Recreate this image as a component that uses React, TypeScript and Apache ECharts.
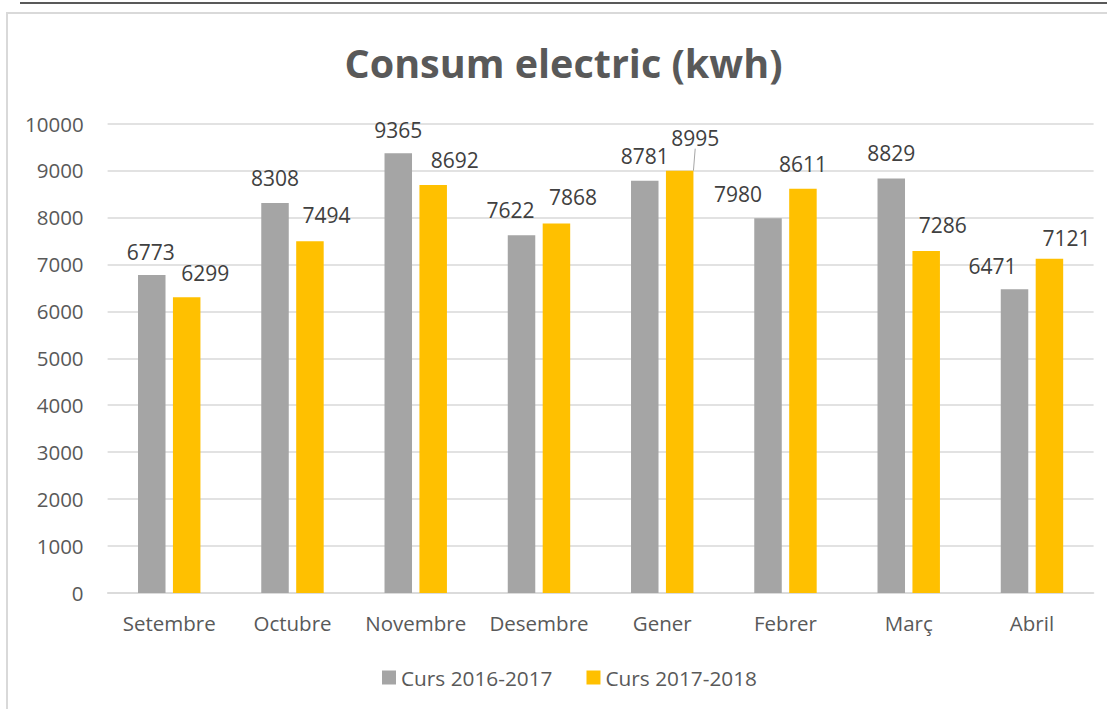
import React, { useEffect, useRef } from "react";
import * as echarts from "echarts";

const categories = ["Setembre", "Octubre", "Novembre", "Desembre", "Gener", "Febrer", "Març", "Abril"];
const seriesNames = ["Curs 2016-2017", "Curs 2017-2018"];
const curs2016 = [6773, 8308, 9365, 7622, 8781, 7980, 8829, 6471];
const curs2017 = [6299, 7494, 8692, 7868, 8995, 8611, 7286, 7121];
const yTicks = { min: 0, max: 10000, interval: 1000 };

// label nudges (px) mimicking Excel's auto-placement
const labelDx = [
  [-1, 0, 0, -11, 0, -30, 0, -22],
  [18.5, 16.5, 21.5, 16.5, 15.5, 0, 16.5, 17],
];
const labelDy = [
  [1, 0, 1, -1, 0, 0, -1, 1],
  [0, -2, 0, -2, -8, 0, -1, 4],
];

const FONT = "'Open Sans', 'Noto Sans', sans-serif";
const TEXT = "#595959";

export default function App() {
  const ref = useRef<HTMLDivElement>(null);
  useEffect(() => {
    if (!ref.current) return;
    const chart = echarts.init(ref.current, undefined, { renderer: "svg" });
    const labelStyle = {
      show: true,
      position: "top" as const,
      distance: 14,
      color: "#404040",
      fontSize: 21,
      fontFamily: FONT,
    };
    chart.setOption({
      animation: false,
      backgroundColor: "#ffffff",
      textStyle: { fontFamily: FONT },
      title: {
        text: "Consum electric (kwh)",
        left: 563.5,
        textAlign: "center",
        top: 43,
        padding: 0,
        textStyle: { fontSize: 39.5, fontWeight: "bold", color: TEXT, fontFamily: FONT },
      },
      graphic: [
        {
          type: "rect",
          shape: { x: 7, y: 13, width: 1300, height: 900 },
          style: { fill: "none", stroke: "#d9d9d9", lineWidth: 2 },
          silent: true,
          z: -10,
        },
        {
          type: "line",
          shape: { x1: 20, y1: 3, x2: 1110, y2: 3 },
          style: { stroke: "#595959", lineWidth: 2 },
          silent: true,
        },
      ],
      legend: {
        data: seriesNames,
        left: 382,
        top: 667,
        itemWidth: 14,
        itemHeight: 14,
        itemGap: 34,
        icon: "rect",
        padding: 0,
        textStyle: { fontSize: 20.8, color: TEXT, fontFamily: FONT },
      },
      grid: { left: 107.6, right: 13.4, top: 123.5, bottom: 116 },
      xAxis: {
        type: "category",
        data: categories,
        axisLine: { lineStyle: { color: "#d9d9d9", width: 1.5 } },
        axisTick: { show: false },
        axisLabel: { fontSize: 20.5, color: TEXT, margin: 19, fontFamily: FONT, interval: 0 },
      },
      yAxis: {
        type: "value",
        min: yTicks.min,
        max: yTicks.max,
        interval: yTicks.interval,
        axisLine: { show: false },
        axisTick: { show: false },
        splitLine: { lineStyle: { color: "#d9d9d9", width: 1.5 } },
        axisLabel: {
          fontSize: 20.5,
          color: TEXT,
          margin: 24,
          fontFamily: FONT,
          formatter: (v: number) => String(v),
        },
      },
      series: [
        {
          name: seriesNames[0],
          type: "bar",
          data: curs2016,
          barWidth: 27.5,
          barGap: "27%",
          itemStyle: { color: "#a5a5a5" },
          label: labelStyle,
          labelLayout: (p: any) => ({ dx: labelDx[0][p.dataIndex], dy: labelDy[0][p.dataIndex] }),
        },
        {
          name: seriesNames[1],
          type: "bar",
          data: curs2017.map((v, i) =>
            i === 4 ? { value: v, labelLine: { show: true, lineStyle: { color: "#a6a6a6", width: 1 } } } : v
          ),
          barWidth: 27.5,
          itemStyle: { color: "#ffc000" },
          label: labelStyle,
          labelLine: { show: false, lineStyle: { color: "#a6a6a6", width: 1 } },
          labelLayout: (p: any) => ({ dx: labelDx[1][p.dataIndex], dy: labelDy[1][p.dataIndex] }),
        },
      ],
    });
    return () => chart.dispose();
  }, []);
  return (
    <div
      ref={ref}
      style={{ position: "fixed", left: 0, top: 0, width: 1107, height: 709 }}
    />
  );
}
